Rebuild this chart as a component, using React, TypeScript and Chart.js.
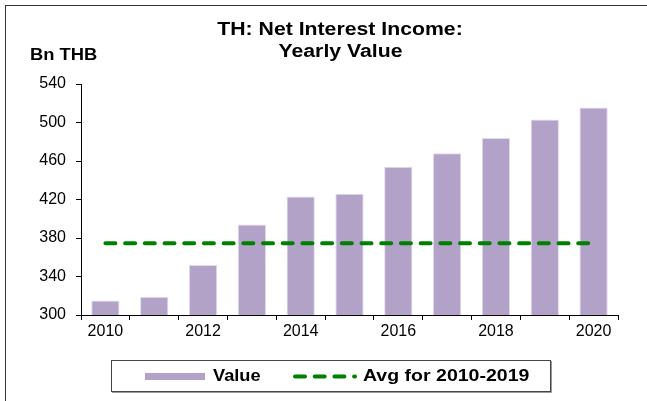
import React, { useEffect, useRef } from "react";
import { Chart, registerables } from "chart.js";

Chart.register(...registerables);

// ---- data ----
const years = ["2010", "2011", "2012", "2013", "2014", "2015", "2016", "2017", "2018", "2019", "2020"];
const values = [315, 319, 352, 394, 423, 426, 454, 468, 484, 503, 515.5];
const avgSeries = [374.5, 374.5, 374.5, 374.5, 374.5, 374.5, 374.5, 374.5, 374.5, 374.5, 374.5];
const yTicks = [300, 340, 380, 420, 460, 500, 540];
const titleLines = ["TH: Net Interest Income:", "Yearly Value"];
const unitLabel = "Bn THB";
const seriesNames = ["Value", "Avg for 2010-2019"];

const BAR_COLOR = "#b2a2c7";
const LINE_COLOR = "#008000";
const FONT = "'Liberation Sans', Arial, sans-serif";
const DASH = [10, 9.7];

function drawText(
  ctx: CanvasRenderingContext2D,
  text: string,
  x: number,
  y: number,
  font: string,
  align: CanvasTextAlign,
  sx: number
) {
  ctx.save();
  ctx.font = font;
  ctx.fillStyle = "#000";
  ctx.textBaseline = "middle";
  ctx.textAlign = align;
  ctx.translate(x, y);
  ctx.scale(sx, 1);
  ctx.fillText(text, 0, 0);
  ctx.restore();
}

const decorPlugin = {
  id: "decor",
  afterDraw(chart: any) {
    const ctx: CanvasRenderingContext2D = chart.ctx;
    const ds = chart.data.datasets;
    // title
    drawText(ctx, titleLines[0], 340, 30, `bold 18px ${FONT}`, "center", 1.18);
    drawText(ctx, titleLines[1], 340.5, 52.5, `bold 18px ${FONT}`, "center", 1.18);
    // unit label
    drawText(ctx, unitLabel, 30, 55.5, `bold 17px ${FONT}`, "left", 1.08);

    // legend box
    ctx.save();
    ctx.strokeStyle = "#9a9a9a";
    ctx.lineWidth = 1;
    ctx.beginPath();
    ctx.moveTo(551.5, 361);
    ctx.lineTo(551.5, 392.5);
    ctx.lineTo(112, 392.5);
    ctx.stroke();
    ctx.strokeStyle = "#444";
    ctx.strokeRect(111.5, 360.5, 439, 31);
    ctx.restore();

    // legend item 1: bar swatch
    ctx.save();
    ctx.fillStyle = ds[0].backgroundColor;
    ctx.fillRect(145, 373, 60, 7);
    ctx.restore();
    drawText(ctx, seriesNames[0], 213, 377, `bold 16px ${FONT}`, "left", 1.14);

    // legend item 2: dashed line
    ctx.save();
    ctx.strokeStyle = ds[1].borderColor;
    ctx.lineWidth = ds[1].borderWidth;
    ctx.lineCap = "round";
    ctx.setLineDash(ds[1].borderDash);
    ctx.beginPath();
    ctx.moveTo(295, 376.5);
    ctx.lineTo(355, 376.5);
    ctx.stroke();
    ctx.restore();
    drawText(ctx, seriesNames[1], 363, 377, `bold 16px ${FONT}`, "left", 1.22);
  },
};

export default function App() {
  const canvasRef = useRef<HTMLCanvasElement | null>(null);

  useEffect(() => {
    const canvas = canvasRef.current;
    if (!canvas) return;
    const chart = new Chart(canvas, {
      type: "bar",
      data: {
        labels: years,
        datasets: [
          {
            type: "bar",
            label: seriesNames[0],
            data: values,
            backgroundColor: BAR_COLOR,
            borderColor: "#e2daed",
            borderWidth: 1,
            categoryPercentage: 1,
            barPercentage: 0.58,
            order: 2,
          } as any,
          {
            type: "line",
            label: seriesNames[1],
            data: avgSeries,
            borderColor: LINE_COLOR,
            borderWidth: 4,
            borderDash: DASH,
            borderCapStyle: "round",
            pointRadius: 0,
            pointHoverRadius: 0,
            fill: false,
            order: 1,
          } as any,
        ],
      },
      options: {
        responsive: false,
        animation: false,
        devicePixelRatio: 1,
        layout: { padding: { top: 84, right: 29, bottom: 0, left: 0 } },
        plugins: {
          legend: { display: false },
          tooltip: { enabled: false },
          title: { display: false },
        },
        scales: {
          x: {
            offset: true,
            grid: {
              offset: true,
              drawOnChartArea: false,
              color: "#000",
              tickColor: "#000",
              tickLength: 5,
            },
            border: { color: "#000", width: 1 },
            ticks: {
              autoSkip: false,
              maxRotation: 0,
              minRotation: 0,
              color: "#000",
              padding: 2,
              font: { family: FONT, size: 16 },
              callback: (_v: any, i: number) => (i % 2 === 0 ? years[i] : ""),
            },
            afterFit: (s: any) => {
              s.height = 86;
            },
          },
          y: {
            min: 300,
            max: 540,
            grid: {
              drawOnChartArea: false,
              color: "#000",
              tickColor: "#000",
              tickLength: 5,
            },
            border: { color: "#000", width: 1 },
            ticks: {
              color: "#000",
              padding: 10,
              font: { family: FONT, size: 16 },
            },
            afterBuildTicks: (s: any) => {
              s.ticks = yTicks.map((v) => ({ value: v }));
            },
            afterFit: (s: any) => {
              s.width = 81;
            },
          },
        },
      },
      plugins: [decorPlugin],
    });
    return () => chart.destroy();
  }, []);

  return (
    <div
      style={{
        position: "fixed",
        left: 0,
        top: 0,
        width: 647,
        height: 401,
        background: "#fff",
        overflow: "hidden",
      }}
    >
      <div
        style={{
          position: "absolute",
          left: 5,
          top: 5,
          right: 0,
          bottom: 0,
          borderTop: "1px solid #333",
          borderLeft: "1px solid #333",
          pointerEvents: "none",
        }}
      />
      <canvas
        ref={canvasRef}
        width={647}
        height={401}
        style={{ position: "absolute", left: 0, top: 0, width: 647, height: 401 }}
      />
    </div>
  );
}
